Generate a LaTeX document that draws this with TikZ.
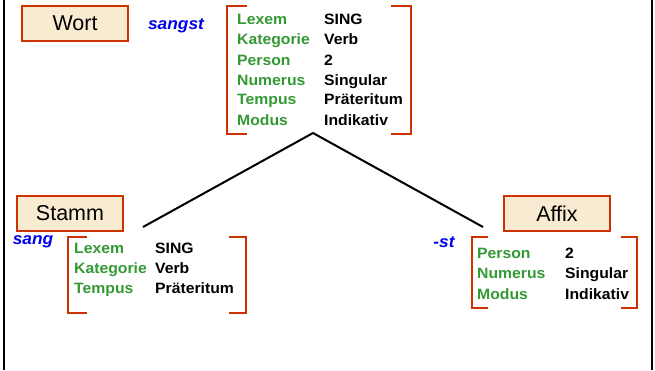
\documentclass[tikz,border=0pt]{standalone}
\usepackage{fontspec}
\setmainfont{Liberation Sans}
\newfontfamily\labfont[FakeStretch=1.05]{Liberation Sans}
\definecolor{brk}{HTML}{CC3300}
\definecolor{grn}{HTML}{339933}
\definecolor{parch}{HTML}{F9EAD2}
\definecolor{blu}{HTML}{0000EE}
\tikzset{
  catbox/.style={draw=brk, line width=2.2pt, fill=parch, minimum width=106pt, minimum height=35pt, inner sep=0pt, font=\fontsize{21.5}{24}\selectfont},
  feat/.style={anchor=base west, inner sep=0pt, text=grn, font=\labfont\bfseries\fontsize{15}{16}\selectfont},
  val/.style={anchor=base west, inner sep=0pt, text=black, font=\labfont\bfseries\fontsize{15}{16}\selectfont},
  form/.style={inner sep=0pt, text=blu, font=\labfont\bfseries\itshape\fontsize{16.5}{18}\selectfont},
  brack/.style={draw=brk, line width=2.4pt},
  branch/.style={draw=black, line width=2pt},
  frame/.style={draw=black, line width=2pt}
}
\begin{document}
\begin{tikzpicture}[x=1pt,y=-1pt]
\useasboundingbox (0,0) rectangle (655,370);
% frame sides
\coordinate (fl1) at (4,0); \coordinate (fl2) at (4,370);
\coordinate (fr1) at (652,0); \coordinate (fr2) at (652,370);
\draw[frame] (fl1) -- (fl2);
\draw[frame] (fr1) -- (fr2);

% top word
\node[catbox] (wort) at (75,23.5) {Wort};
\node[form] (sangst) at (176,26) {sangst};
\draw[brack] (247,6) -- (227,6) -- (227,134) -- (247,134);
\draw[brack] (391,6) -- (411,6) -- (411,134) -- (391,134);
\node[feat] (f1) at (237,24.5) {Lexem};     \node[val] (v1) at (324,24.5) {SING};
\node[feat] (f2) at (237,44.5) {Kategorie}; \node[val] (v2) at (324,44.5) {Verb};
\node[feat] (f3) at (237,65) {Person};   \node[val] (v3) at (324,65) {2};
\node[feat] (f4) at (237,85) {Numerus};  \node[val] (v4) at (324,85) {Singular};
\node[feat] (f5) at (237,104.5) {Tempus};  \node[val] (v5) at (324,104.5) {Präteritum};
\node[feat] (f6) at (237,125.5) {Modus};   \node[val] (v6) at (324,125.5) {Indikativ};

% tree branches
\coordinate (peak) at (313,133);
\coordinate (lend) at (143,227);
\coordinate (rend) at (483,227);
\draw[branch] (lend) -- (peak) -- (rend);

% Stamm
\node[catbox] (stamm) at (70,213.5) {Stamm};
\node[form] (sang) at (33,242) {sang};
\draw[brack] (87,237) -- (68,237) -- (68,313) -- (87,313);
\draw[brack] (229,237) -- (246,237) -- (246,313) -- (229,313);
\node[feat] (s1) at (74,253.5) {Lexem};     \node[val] (t1) at (155,253.5) {SING};
\node[feat] (s2) at (74,273.5) {Kategorie}; \node[val] (t2) at (155,273.5) {Verb};
\node[feat] (s3) at (74,293.5) {Tempus};    \node[val] (t3) at (155,293.5) {Präteritum};

% Affix
\node[catbox] (affix) at (557,213.5) {Affix};
\node[form] (st) at (444,242) {-st};
\draw[brack] (488,237) -- (472,237) -- (472,308) -- (488,308);
\draw[brack] (621,237) -- (637,237) -- (637,308) -- (621,308);
\node[feat] (a1) at (477,258.5) {Person};  \node[val] (b1) at (565,258.5) {2};
\node[feat] (a2) at (477,278.5) {Numerus}; \node[val] (b2) at (565,278.5) {Singular};
\node[feat] (a3) at (477,299) {Modus};   \node[val] (b3) at (565,299) {Indikativ};
\end{tikzpicture}
\end{document}
